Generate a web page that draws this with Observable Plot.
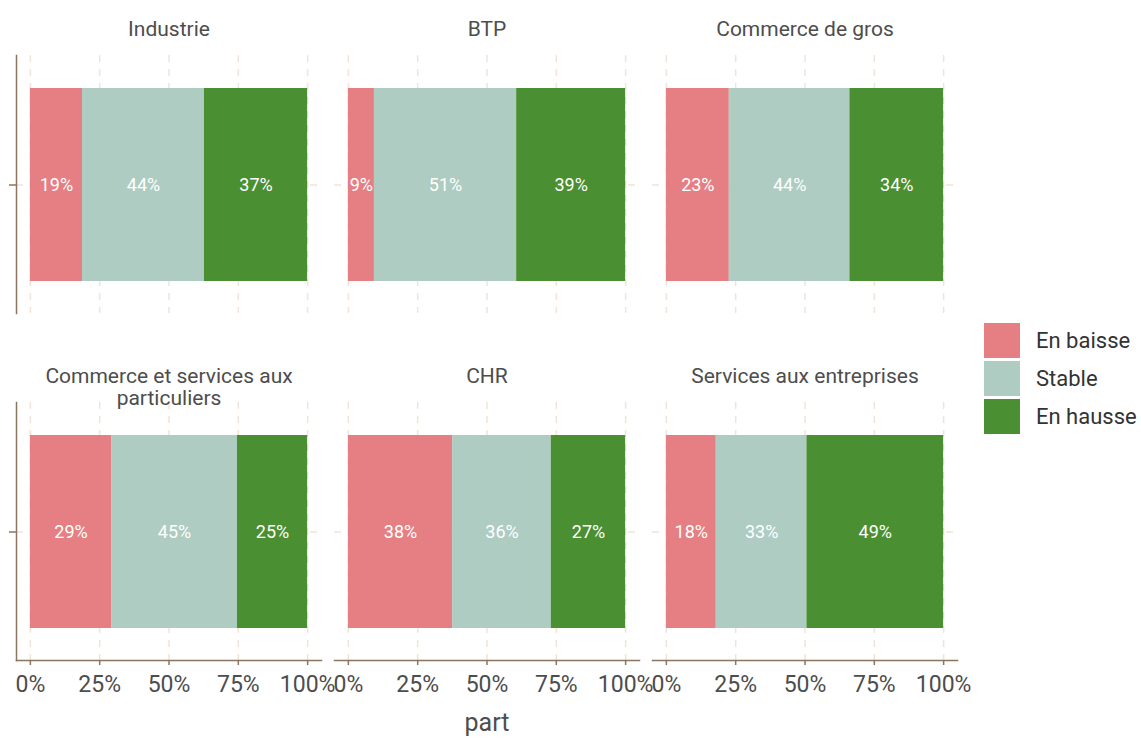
<!DOCTYPE html>
<html>
<head>
<meta charset="utf-8">
<script src="https://cdn.jsdelivr.net/npm/d3@7"></script>
<script src="https://cdn.jsdelivr.net/npm/@observablehq/plot@0.6"></script>
<style>
  body { margin: 0; background: white; font-family: Roboto, "Liberation Sans", sans-serif; }
  #wrap { position: relative; width: 1141px; height: 738px; }
  #legend { position: absolute; left: 984px; top: 321px; }
  .key { display: flex; align-items: center; height: 38px; }
  .sw { width: 36px; height: 35px; margin-right: 16px; }
  .lab { font-size: 22px; color: #333; }
</style>
</head>
<body>
<div id="wrap"></div>
<script>
const categories = ["Industrie", "BTP", "Commerce de gros", "Commerce et services aux\nparticuliers", "CHR", "Services aux entreprises"];
const levels = ["En baisse", "Stable", "En hausse"];
const enBaisse = [18.8, 9.4, 22.7, 29.3, 37.6, 18.0];
const stable   = [44.0, 51.3, 43.5, 45.4, 35.6, 32.7];
const enHausse = [37.2, 39.3, 33.8, 25.3, 26.8, 49.3];
const colors = ["#e57f83", "#aeccc2", "#4a8f31"];
const xTicks = [0, 25, 50, 75, 100];

const series = [enBaisse, stable, enHausse];
const data = [];
categories.forEach((cat, i) => {
  levels.forEach((lvl, j) => {
    data.push({cat, col: i % 3, row: Math.floor(i / 3), level: lvl, value: series[j][i]});
  });
});
const titles = categories.map((name, i) => ({name, col: i % 3, row: Math.floor(i / 3)}));

const axisColor = "#8a7560";
const gridColor = "#f1e3d5";
const textColor = "#4d4d4d";

const chart = Plot.plot({
  width: 1141,
  height: 738,
  marginTop: 55,
  marginBottom: 78,
  marginLeft: 15,
  marginRight: 184,
  style: {fontFamily: "Roboto, 'Liberation Sans', sans-serif", background: "white"},
  fx: {domain: [0, 1, 2], paddingInner: 0.0424, paddingOuter: 0, axis: null},
  fy: {domain: [0, 1], paddingInner: 0.2565, paddingOuter: 0, axis: null},
  x: {domain: [-5, 105]},
  y: {domain: ["g"], padding: 0.142857},
  color: {domain: levels, range: colors},
  marks: [
    Plot.ruleX(xTicks, {stroke: gridColor, strokeWidth: 1.5, strokeDasharray: "7,7"}),
    Plot.ruleY(["g"], {stroke: gridColor, strokeWidth: 1.5, strokeDasharray: "7,7"}),
    Plot.barX(data, Plot.stackX({x: "value", y: () => "g", fill: "level", fx: "col", fy: "row"})),
    Plot.text(data, Plot.stackX({x: "value", y: () => "g", z: "level", fx: "col", fy: "row",
      text: d => Math.round(d.value) + "%", fill: "white", fontSize: 18})),
    Plot.text(titles, {fx: "col", fy: "row", text: "name", frameAnchor: "top", dy: -35,
      fontSize: 21, fill: textColor, lineHeight: 1.05}),
    Plot.frame({anchor: "bottom", facetAnchor: "bottom", stroke: axisColor, strokeWidth: 1.5}),
    Plot.frame({anchor: "left", facetAnchor: "left", stroke: axisColor, strokeWidth: 1.5}),
    Plot.axisX({ticks: xTicks, tickFormat: d => d + "%", tickSize: 5, tickPadding: 10,
      stroke: axisColor, strokeWidth: 1.5, strokeOpacity: 1, fill: textColor, fontSize: 23,
      label: "part", labelAnchor: "center", labelArrow: "none", labelOffset: 70}),
    Plot.axisY({tickFormat: () => "", tickSize: 7, stroke: axisColor, strokeWidth: 1.5, strokeOpacity: 1, label: null})
  ]
});

const wrap = document.getElementById("wrap");
wrap.appendChild(chart);
// larger axis title
chart.querySelectorAll("g[aria-label='x-axis label'] text").forEach(t => t.setAttribute("font-size", 25));

const legend = document.createElement("div");
legend.id = "legend";
levels.forEach((lvl, j) => {
  const k = document.createElement("div");
  k.className = "key";
  const sw = document.createElement("div");
  sw.className = "sw";
  sw.style.background = colors[j];
  const lab = document.createElement("span");
  lab.className = "lab";
  lab.textContent = lvl;
  k.appendChild(sw);
  k.appendChild(lab);
  legend.appendChild(k);
});
wrap.appendChild(legend);
</script>
</body>
</html>
